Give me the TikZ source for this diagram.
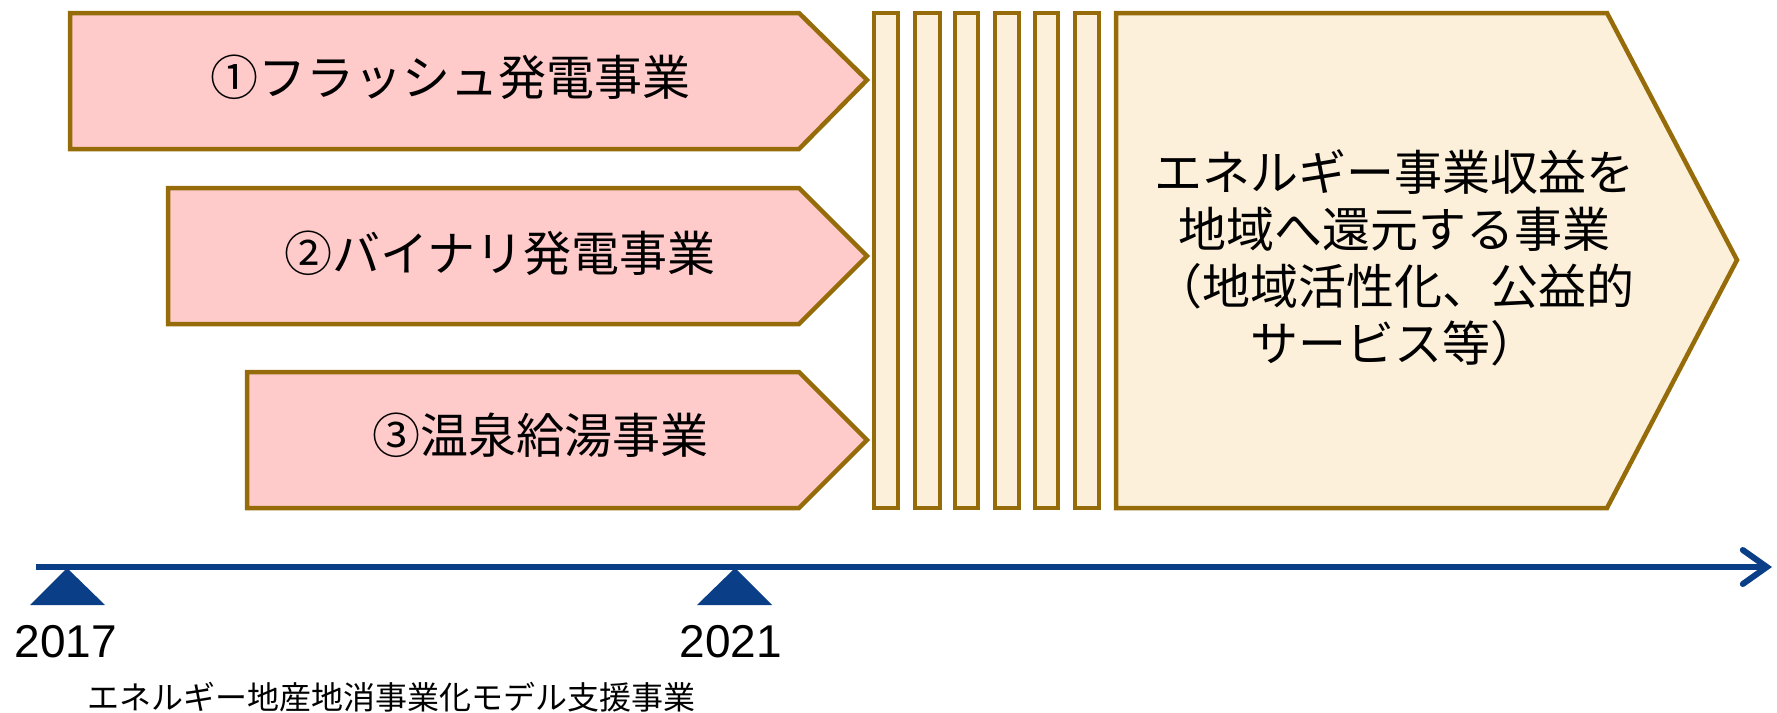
\documentclass[tikz,border=0pt]{standalone}
\usepackage{fontspec}
\setmainfont{Liberation Sans}
\newfontfamily\jp{Noto Sans CJK JP}
\usetikzlibrary{arrows.meta}
\definecolor{brd}{RGB}{150,108,10}
\definecolor{pinkf}{RGB}{255,202,202}
\definecolor{creamf}{RGB}{253,240,219}
\definecolor{tl}{RGB}{10,62,135}
\begin{document}
\begin{tikzpicture}[x=1pt,y=-1pt,
  pent/.style={draw=brd,line width=4.5pt,fill=pinkf},
  barbox/.style={draw=brd,line width=4.5pt,fill=creamf},
  biglbl/.style={font=\jp\fontsize{48}{57}\selectfont,align=center,inner sep=0pt},
  yearlbl/.style={font=\fontsize{46}{50}\selectfont,inner sep=0pt},
  smalllbl/.style={font=\jp\fontsize{32}{38}\selectfont,inner sep=0pt},
  mark/.style={fill=tl}]
\useasboundingbox (0,0) rectangle (1777,712);
% three business arrows
\draw[pent] (70,13) -- (799,13) -- (867,80) -- (799,149) -- (70,149) -- cycle;
\draw[pent] (168,188) -- (799,188) -- (867,256) -- (799,324) -- (168,324) -- cycle;
\draw[pent] (247,372) -- (799,372) -- (867,440) -- (799,508) -- (247,508) -- cycle;
\node[biglbl] (b1) at (450,77) {①フラッシュ発電事業};
\node[biglbl] (b2) at (500,253) {②バイナリ発電事業};
\node[biglbl] (b3) at (540,435) {③温泉給湯事業};
% bars
\foreach \xa/\xb in {874/898,915/940,955/978,995/1019,1035/1058,1075/1099}{
  \draw[barbox] (\xa,13) rectangle (\xb,508);
}
% big arrow
\draw[barbox] (1116,13) -- (1607,13) -- (1737,260) -- (1607,508) -- (1116,508) -- cycle;
\node[biglbl] (goal) at (1394,258) {エネルギー事業収益を\\地域へ還元する事業\\（地域活性化、公益的\\サービス等）};
% timeline
\coordinate (t0) at (36,567);
\coordinate (t1) at (1772,567);
\draw[tl,line width=6pt,-{Straight Barb[length=24pt,width=34pt,line cap=round]}] (t0) -- (t1);
\fill[tl] (30,605) -- (105,605) -- (67,568) -- cycle;
\fill[tl] (697,605) -- (772,605) -- (735,568) -- cycle;
\node[yearlbl] (y1) at (66,642) {2017};
\node[yearlbl] (y2) at (731,642) {2021};
\node[smalllbl] (sub) at (391,697) {エネルギー地産地消事業化モデル支援事業};
\end{tikzpicture}
\end{document}
